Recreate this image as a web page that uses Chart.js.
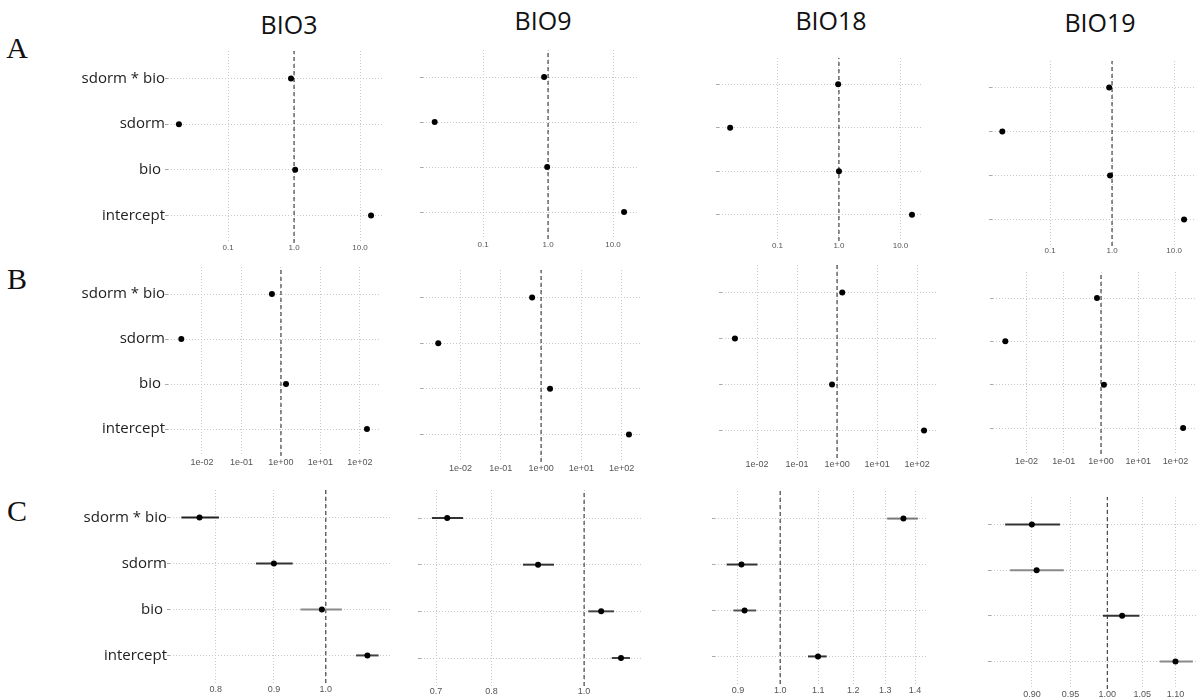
<!DOCTYPE html>
<html>
<head>
<meta charset="utf-8">
<script src="https://cdn.jsdelivr.net/npm/chart.js@4"></script>
<style>
  body { margin: 0; background: #fff; }
  #page { position: relative; width: 1196px; height: 698px; overflow: hidden; background: #fff; }
  .panel { position: absolute; }
  .title { position: absolute; font-family: 'Open Sans'; font-size: 25px; color: #111; line-height: 1; white-space: nowrap; transform: translate(-50%, -50%); }
  .letter { position: absolute; font-family: 'Liberation Serif'; font-size: 30px; color: #111; line-height: 1; transform: translate(-50%, -50%); }
</style>
</head>
<body>
<div id="page"></div>
<script>
// categories, top to bottom
const categories = ['sdorm * bio', 'sdorm', 'bio ', 'intercept'];
const columnTitles = ['BIO3', 'BIO9', 'BIO18', 'BIO19'];
const rowLetters = ['A', 'B', 'C'];

// row A estimates
const aBio3 = [0.90, 0.018, 1.04, 14.7];
const aBio9 = [0.87, 0.018, 0.97, 14.8];
const aBio18 = [0.97, 0.017, 1.00, 15.4];
const aBio19 = [0.90, 0.017, 0.93, 14.5];

// row B estimates
const bBio3 = [0.59, 0.0030, 1.34, 150];
const bBio9 = [0.60, 0.0028, 1.67, 152];
const bBio18 = [1.35, 0.0028, 0.75, 150];
const bBio19 = [0.78, 0.0027, 1.20, 160];

// row C estimates with intervals
const cBio3 = [0.774, 0.900, 0.992, 1.088];
const cBio3Lo = [0.746, 0.868, 0.950, 1.063];
const cBio3Hi = [0.805, 0.935, 1.033, 1.113];
const cBio9 = [0.719, 0.895, 1.042, 1.093];
const cBio9Lo = [0.693, 0.863, 1.010, 1.069];
const cBio9Hi = [0.747, 0.930, 1.075, 1.117];
const cBio18 = [1.360, 0.908, 0.915, 1.099];
const cBio18Lo = [1.306, 0.875, 0.890, 1.072];
const cBio18Hi = [1.410, 0.945, 0.942, 1.123];
const cBio19 = [0.900, 0.906, 1.021, 1.100];
const cBio19Lo = [0.867, 0.873, 0.994, 1.076];
const cBio19Hi = [0.936, 0.941, 1.046, 1.127];

// tick values and labels
const ticksA = [0.1, 1, 10];
const ticksALabels = ['0.1', '1.0', '10.0'];
const ticksB = [0.01, 0.1, 1, 10, 100];
const ticksBLabels = ['1e-02', '1e-01', '1e+00', '1e+01', '1e+02'];
const ticksC3 = [0.8, 0.9, 1.0];
const ticksC3Labels = ['0.8', '0.9', '1.0'];
const ticksC9 = [0.7, 0.8, 1.0];
const ticksC9Labels = ['0.7', '0.8', '1.0'];
const ticksC18 = [0.9, 1.0, 1.1, 1.2, 1.3, 1.4];
const ticksC18Labels = ['0.9', '1.0', '1.1', '1.2', '1.3', '1.4'];
const ticksC19 = [0.90, 0.95, 1.00, 1.05, 1.10];
const ticksC19Labels = ['0.90', '0.95', '1.00', '1.05', '1.10'];

const page = document.getElementById('page');

// panel placement
const panels = [
  { col: 0, left: 168, right: 383, top: 50.6, bottom: 242.4, xmin: 0.0123, xmax: 22.3, labelY: 245, fs: 8, est: aBio3, ticks: ticksA, labels: ticksALabels },
  { col: 1, left: 423, right: 637, top: 50, bottom: 239, xmin: 0.0119, xmax: 23.4, labelY: 245, fs: 8, est: aBio9, ticks: ticksA, labels: ticksALabels },
  { col: 2, left: 719, right: 922, top: 57.8, bottom: 241, xmin: 0.0112, xmax: 22.4, labelY: 245, fs: 8, est: aBio18, ticks: ticksA, labels: ticksALabels },
  { col: 3, left: 992, right: 1196, top: 60.6, bottom: 245.4, xmin: 0.0116, xmax: 22.6, labelY: 250, fs: 8, est: aBio19, ticks: ticksA, labels: ticksALabels },

  { col: 0, left: 168, right: 380, top: 267, bottom: 456, xmin: 0.00138, xmax: 321, labelY: 462, fs: 9, est: bBio3, ticks: ticksB, labels: ticksBLabels },
  { col: 1, left: 423, right: 642, top: 269.6, bottom: 461.4, xmin: 0.00117, xmax: 321, labelY: 468, fs: 9, est: bBio9, ticks: ticksB, labels: ticksBLabels },
  { col: 2, left: 722, right: 936, top: 265.4, bottom: 458.6, xmin: 0.00133, xmax: 298, labelY: 465, fs: 9, est: bBio18, ticks: ticksB, labels: ticksBLabels },
  { col: 3, left: 993, right: 1196, top: 272, bottom: 454, xmin: 0.00126, xmax: 355, labelY: 461, fs: 9, est: bBio19, ticks: ticksB, labels: ticksBLabels },

  { col: 0, left: 170, right: 390, top: 490.4, bottom: 683.6, xmin: 0.729, xmax: 1.139, labelY: 690, fs: 9, est: cBio3, lo: cBio3Lo, hi: cBio3Hi,
    ciColors: ['#222', '#333', '#8a8a8a', '#444'], ticks: ticksC3, labels: ticksC3Labels },
  { col: 1, left: 421, right: 641, top: 490, bottom: 686, xmin: 0.675, xmax: 1.147, labelY: 691, fs: 9, est: cBio9, lo: cBio9Lo, hi: cBio9Hi,
    ciColors: ['#333', '#333', '#444', '#444'], ticks: ticksC9, labels: ticksC9Labels },
  { col: 2, left: 715, right: 928, top: 491.4, bottom: 684.6, xmin: 0.853, xmax: 1.446, labelY: 691, fs: 9, est: cBio18, lo: cBio18Lo, hi: cBio18Hi,
    ciColors: ['#777', '#333', '#555', '#333'], ticks: ticksC18, labels: ticksC18Labels },
  { col: 3, left: 991, right: 1196, top: 496.6, bottom: 688.4, xmin: 0.854, xmax: 1.132, labelY: 694, fs: 9, est: cBio19, lo: cBio19Lo, hi: cBio19Hi,
    ciColors: ['#333', '#8a8a8a', '#333', '#8a8a8a'], ticks: ticksC19, labels: ticksC19Labels }
];

const titlePos = [[289, 24], [543, 20], [831, 20], [1100, 22]];
const letterPos = [[17, 48], [17, 279], [17, 511]];

columnTitles.forEach((t, i) => {
  const d = document.createElement('div');
  d.className = 'title';
  d.textContent = t;
  d.style.left = titlePos[i][0] + 'px';
  d.style.top = titlePos[i][1] + 'px';
  page.appendChild(d);
});

rowLetters.forEach((t, i) => {
  const d = document.createElement('div');
  d.className = 'letter';
  d.textContent = t;
  d.style.left = letterPos[i][0] + 'px';
  d.style.top = letterPos[i][1] + 'px';
  page.appendChild(d);
});

function makePanel(p) {
  const n = categories.length;
  const yw = p.col === 0 ? p.left : 4;
  const xh = 22;
  const cLeft = p.left - yw;
  const w = Math.round(p.right - cLeft);
  const h = Math.round(p.bottom - p.top + xh);

  const div = document.createElement('div');
  div.className = 'panel';
  div.style.left = cLeft + 'px';
  div.style.top = p.top + 'px';
  const cv = document.createElement('canvas');
  cv.width = w;
  cv.height = h;
  cv.style.width = w + 'px';
  cv.style.height = h + 'px';
  div.appendChild(cv);
  page.appendChild(div);

  const rowY = i => n - 1 - i;
  const datasets = [];

  // reference line at 1
  datasets.push({
    data: [{ x: 1, y: -0.6 }, { x: 1, y: n - 0.4 }],
    showLine: true, borderColor: '#222', borderWidth: 1, borderDash: [4, 3],
    pointRadius: 0, order: 3
  });

  if (p.lo) {
    p.lo.forEach((lo, i) => {
      datasets.push({
        data: [{ x: lo, y: rowY(i) }, { x: p.hi[i], y: rowY(i) }],
        showLine: true, borderColor: p.ciColors[i], borderWidth: 2,
        pointRadius: 0, order: 2
      });
    });
  }

  datasets.push({
    data: p.est.map((v, i) => ({ x: v, y: rowY(i) })),
    pointRadius: 3, pointBackgroundColor: '#000', pointBorderWidth: 0, order: 1
  });

  const pad = Math.max(0, Math.round(p.labelY - p.bottom - p.fs * 0.6));

  new Chart(cv, {
    type: 'scatter',
    data: { datasets: datasets },
    options: {
      responsive: false,
      animation: false,
      devicePixelRatio: 1,
      layout: { padding: 0, autoPadding: false },
      clip: false,
      plugins: { legend: { display: false }, tooltip: { enabled: false } },
      scales: {
        x: {
          type: 'logarithmic',
          min: p.xmin,
          max: p.xmax,
          afterBuildTicks: s => { s.ticks = p.ticks.map(v => ({ value: v })); },
          ticks: {
            autoSkip: false,
            maxRotation: 0,
            padding: pad,
            color: '#555',
            font: { family: 'Liberation Sans', size: p.fs },
            callback: (v, i) => p.labels[i]
          },
          grid: { color: '#c8c8c8', lineWidth: 1, drawTicks: false },
          border: { display: false, dash: [1, 2] },
          afterFit: s => { s.height = xh; s.paddingLeft = 0; s.paddingRight = 0; }
        },
        y: {
          type: 'linear',
          min: -0.6,
          max: n - 0.4,
          afterBuildTicks: s => { s.ticks = categories.map((c, i) => ({ value: rowY(i) })); },
          ticks: {
            padding: 0,
            color: '#222',
            font: { family: 'Open Sans', size: 15 },
            callback: v => p.col === 0 ? categories[n - 1 - v] : ''
          },
          grid: { color: '#c8c8c8', lineWidth: 1, tickLength: 3, tickColor: '#aaa' },
          border: { display: false, dash: [1, 2] },
          afterFit: s => { s.width = yw; s.paddingTop = 0; s.paddingBottom = 0; }
        }
      }
    }
  });
}

panels.forEach(makePanel);
</script>
</body>
</html>
